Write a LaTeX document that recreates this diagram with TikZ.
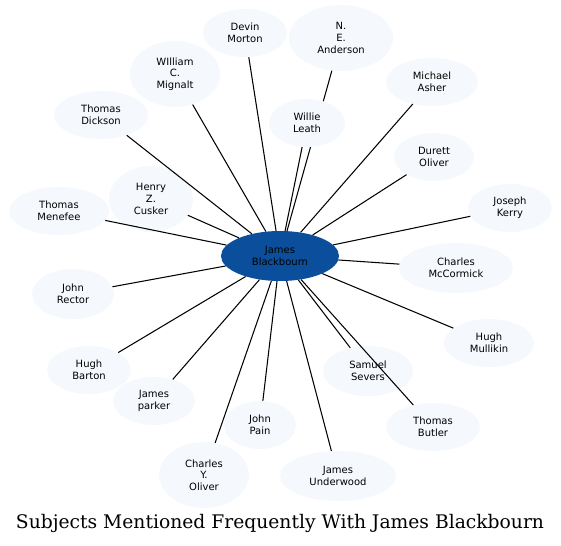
\documentclass[tikz,border=0pt]{standalone}
\usepackage{fontspec}
\setmainfont{DejaVu Serif}
\newfontfamily\nodefont{DejaVu Sans}
\usetikzlibrary{shapes.geometric}
\definecolor{centerblue}{HTML}{0B4F9C}
\definecolor{nodefill}{HTML}{F5F9FE}
\begin{document}
\begin{tikzpicture}[x=1pt,y=-1pt,
  person/.style={ellipse, fill=nodefill, inner sep=0pt, align=center,
    font=\nodefont\fontsize{10}{11.7}\selectfont, text=black},
  hub/.style={person, fill=centerblue},
  edge/.style={draw=black, line width=1.05pt}]
\useasboundingbox (0,0) rectangle (561,545);
% centre and the edge hidden under Willie Leath
\node[hub, minimum width=118pt, minimum height=50pt] (jb) at (280,256) {James\\Blackbourn};
\node[person, minimum width=104pt, minimum height=66pt] (anderson) at (341,38) {N.\\E.\\Anderson};
\draw[edge] (jb) -- (anderson);
% other nodes
\node[person, minimum width=84pt, minimum height=48pt] (devin) at (245,33) {Devin\\Morton};
\node[person, minimum width=90pt, minimum height=66pt] (mignalt) at (175,74) {WIlliam\\C.\\Mignalt};
\node[person, minimum width=92pt, minimum height=48pt] (asher) at (432,82) {Michael\\Asher};
\node[person, minimum width=94pt, minimum height=48pt] (dickson) at (101,115) {Thomas\\Dickson};
\node[person, minimum width=76pt, minimum height=48pt] (leath) at (307,123) {Willie\\Leath};
\node[person, minimum width=80pt, minimum height=48pt] (durett) at (434,157) {Durett\\Oliver};
\node[person, minimum width=84pt, minimum height=66pt] (cusker) at (151,199) {Henry\\Z.\\Cusker};
\node[person, minimum width=100pt, minimum height=48pt] (menefee) at (59,211) {Thomas\\Menefee};
\node[person, minimum width=84pt, minimum height=48pt] (kerry) at (510,208) {Joseph\\Kerry};
\node[person, minimum width=114pt, minimum height=50pt] (mccormick) at (456,268) {Charles\\McCormick};
\node[person, minimum width=82pt, minimum height=50pt] (rector) at (73,294) {John\\Rector};
\node[person, minimum width=90pt, minimum height=48pt] (mullikin) at (489,343) {Hugh\\Mullikin};
\node[person, minimum width=84pt, minimum height=48pt] (barton) at (89,370) {Hugh\\Barton};
\node[person, minimum width=90pt, minimum height=50pt] (severs) at (368,371) {Samuel\\Severs};
\node[person, minimum width=82pt, minimum height=48pt] (parker) at (154,401) {James\\parker};
\node[person, minimum width=72pt, minimum height=48pt] (pain) at (260,425) {John\\Pain};
\node[person, minimum width=94pt, minimum height=48pt] (butler) at (433,427) {Thomas\\Butler};
\node[person, minimum width=90pt, minimum height=66pt] (cyoliver) at (204,475) {Charles\\Y.\\Oliver};
\node[person, minimum width=116pt, minimum height=50pt] (underwood) at (338,476) {James\\Underwood};
% edges
\foreach \n in {devin,mignalt,asher,dickson,leath,durett,cusker,menefee,kerry,mccormick,rector,mullikin,barton,severs,parker,pain,butler,cyoliver,underwood}
  \draw[edge] (jb) -- (\n);
% title
\node (title) at (280,523) {\resizebox{528pt}{!}{Subjects Mentioned Frequently With James Blackbourn}};
\end{tikzpicture}
\end{document}
